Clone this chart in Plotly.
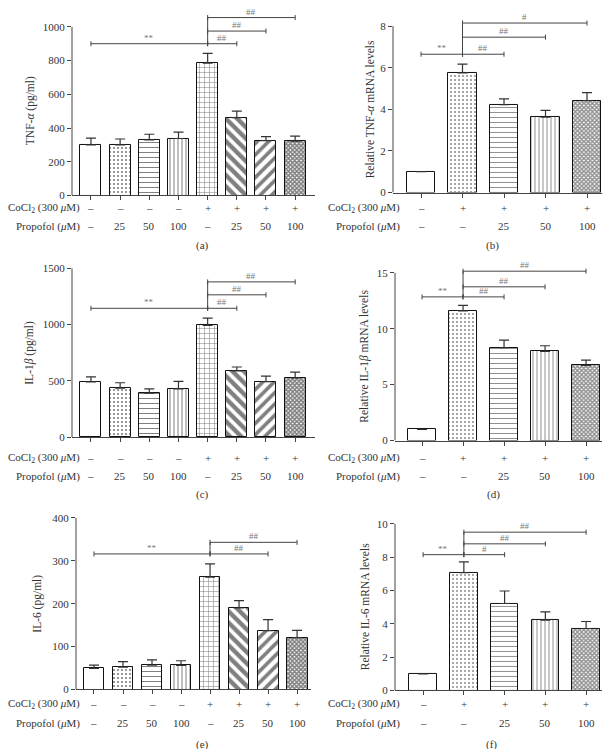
import plotly.graph_objects as go

W, H = 610, 749

# treatment rows under the x axis
cocl2_8 = ["–", "–", "–", "–", "+", "+", "+", "+"]
propofol_8 = ["–", "25", "50", "100", "–", "25", "50", "100"]
cocl2_5 = ["–", "+", "+", "+", "+"]
propofol_5 = ["–", "–", "25", "50", "100"]

# (a) TNF-a protein, pg/ml
tnf_protein = [300, 300, 330, 338, 785, 462, 325, 322]
tnf_protein_err = [40, 35, 33, 38, 58, 38, 24, 30]
# (b) TNF-a mRNA
tnf_mrna = [1.0, 5.75, 4.22, 3.62, 4.42]
tnf_mrna_err = [0, 0.42, 0.28, 0.33, 0.38]
# (c) IL-1b protein, pg/ml
il1b_protein = [490, 435, 390, 428, 993, 588, 493, 525]
il1b_protein_err = [45, 48, 38, 68, 65, 35, 48, 52]
# (d) IL-1b mRNA
il1b_mrna = [1.0, 11.6, 8.3, 7.98, 6.72]
il1b_mrna_err = [0, 0.5, 0.68, 0.5, 0.47]
# (e) IL-6 protein, pg/ml
il6_protein = [49, 52, 57, 56, 262, 190, 137, 121]
il6_protein_err = [8, 13, 12, 11, 31, 17, 26, 17]
# (f) IL-6 mRNA
il6_mrna = [1.0, 7.07, 5.22, 4.22, 3.72]
il6_mrna_err = [0, 0.65, 0.75, 0.5, 0.42]

# significance brackets: (from bar, to bar, height, mark)
tnf_protein_sig = [(0, 4, 900, "**"), (4, 5, 900, "##"), (4, 6, 975, "##"), (4, 7, 1055, "##")]
tnf_mrna_sig = [(0, 1, 6.65, "**"), (1, 2, 6.65, "##"), (1, 3, 7.47, "##"), (1, 4, 8.15, "#")]
il1b_protein_sig = [(0, 4, 1145, "**"), (4, 5, 1145, "##"), (4, 6, 1265, "##"), (4, 7, 1380, "##")]
il1b_mrna_sig = [(0, 1, 12.85, "**"), (1, 2, 12.85, "##"), (1, 3, 13.75, "##"), (1, 4, 15.15, "##")]
il6_protein_sig = [(0, 4, 316, "**"), (4, 6, 316, "##"), (4, 7, 343, "##")]
il6_mrna_sig = [(0, 1, 8.15, "**"), (1, 2, 8.15, "#"), (1, 3, 8.8, "##"), (1, 4, 9.5, "##")]

pattern8 = dict(shape=["", ".", "-", "|", "+", "\\", "/", "x"],
                size=[6, 4, 5, 4, 5, 8, 8, 3],
                solidity=[0, 0.22, 0.2, 0.25, 0.2, 0.55, 0.45, 0.75],
                fgcolor="black")
pattern5 = dict(shape=["", ".", "-", "|", "x"],
                size=[6, 4, 5, 4, 3],
                solidity=[0, 0.22, 0.2, 0.25, 0.7],
                fgcolor="#222")

panels = [
    dict(vals=tnf_protein, err=tnf_protein_err, cocl2=cocl2_8, prop=propofol_8, sig=tnf_protein_sig,
         title="TNF-<i>α</i> (pg/ml)", tag="(a)", x0=64, x1=307, xr=[-0.65, 7.68], bw=0.72,
         ybot=189, ytick=19, ymax=1000, dtick=200, ytop=2, title_x=22, label_x=74, rows=[202, 220, 239]),
    dict(vals=tnf_mrna, err=tnf_mrna_err, cocl2=cocl2_5, prop=propofol_5, sig=tnf_mrna_sig,
         title="Relative TNF-<i>α</i> mRNA levels", tag="(b)", x0=385, x1=601, xr=[-0.675, 4.53], bw=0.68,
         ybot=186, ytick=18.3, ymax=8, dtick=2, ytop=2, title_x=362, label_x=394, rows=[202, 220, 239]),
    dict(vals=il1b_protein, err=il1b_protein_err, cocl2=cocl2_8, prop=propofol_8, sig=il1b_protein_sig,
         title="IL-1<i>β</i> (pg/ml)", tag="(c)", x0=64, x1=307, xr=[-0.65, 7.68], bw=0.72,
         ybot=432.5, ytick=262.5, ymax=1500, dtick=500, ytop=250, title_x=22, label_x=74, rows=[454, 472, 490]),
    dict(vals=il1b_mrna, err=il1b_mrna_err, cocl2=cocl2_5, prop=propofol_5, sig=il1b_mrna_sig,
         title="Relative IL-1<i>β</i> mRNA levels", tag="(d)", x0=387, x1=601, xr=[-0.66, 4.56], bw=0.68,
         ybot=436, ytick=267, ymax=15, dtick=5, ytop=250, title_x=357, label_x=394, rows=[454, 472, 490]),
    dict(vals=il6_protein, err=il6_protein_err, cocl2=cocl2_8, prop=propofol_8, sig=il6_protein_sig,
         title="IL-6 (pg/ml)", tag="(e)", x0=68, x1=303, xr=[-0.62, 7.48], bw=0.72,
         ybot=687, ytick=514, ymax=400, dtick=100, ytop=500, title_x=30, label_x=74, rows=[702, 721, 742]),
    dict(vals=il6_mrna, err=il6_mrna_err, cocl2=cocl2_5, prop=propofol_5, sig=il6_mrna_sig,
         title="Relative IL-6 mRNA levels", tag="(f)", x0=387, x1=594, xr=[-0.69, 4.39], bw=0.68,
         ybot=688, ytick=520, ymax=10, dtick=2, ytop=505, title_x=357, label_x=394, rows=[702, 721, 742]),
]

FONT = "Liberation Serif, Times New Roman, serif"
TXT = "#333"
LINE = "#444"
FS = 11

fig = go.Figure()
shapes = []
annotations = []
layout = {}

for i, p in enumerate(panels):
    k = "" if i == 0 else str(i + 1)
    xref, yref = "x" + k, "y" + k
    n = len(p["vals"])
    ppu = (p["ybot"] - p["ytick"]) / p["ymax"]
    ytop_val = (p["ybot"] - p["ytop"]) / ppu

    fig.add_trace(go.Bar(
        x=list(range(n)), y=p["vals"], width=p["bw"],
        marker=dict(color="white", line=dict(color="#111", width=1),
                    pattern=pattern8 if n == 8 else pattern5),
        error_y=dict(type="data", symmetric=False, array=p["err"], arrayminus=[0] * n,
                     color="#333", thickness=1.2, width=5),
        xaxis=xref, yaxis=yref, showlegend=False, hoverinfo="skip"))

    layout["xaxis" + k] = dict(domain=[p["x0"] / W, p["x1"] / W], range=p["xr"], anchor=yref,
                               showline=True, linecolor=LINE, linewidth=1, ticks="outside",
                               ticklen=4, tickcolor=LINE, tickvals=list(range(n)),
                               showticklabels=False, showgrid=False, zeroline=False, fixedrange=True)
    tv = list(range(0, p["ymax"] + 1, p["dtick"]))
    layout["yaxis" + k] = dict(domain=[(H - p["ybot"]) / H, (H - p["ytop"]) / H], range=[0, ytop_val],
                               anchor=xref, showline=False, ticks="outside", ticklen=4,
                               tickcolor=LINE, tickvals=tv, ticktext=[str(t) for t in tv],
                               tickfont=dict(size=11, color=TXT, family=FONT),
                               showgrid=False, zeroline=False, fixedrange=True)

    # y axis line only up to the top tick
    shapes.append(dict(type="line", xref=xref + " domain", yref=yref, x0=0, x1=0, y0=0, y1=p["ymax"],
                       line=dict(color=LINE, width=1)))

    # significance brackets
    starts = [s[0] for s in p["sig"]]
    for a, b, yv, mark in p["sig"]:
        shapes.append(dict(type="line", xref=xref, yref=yref, x0=a, x1=b, y0=yv, y1=yv,
                           line=dict(color=LINE, width=1)))
        for xx in (a, b):
            shapes.append(dict(type="line", xref=xref, yref=yref, x0=xx, x1=xx,
                               ysizemode="pixel", yanchor=yv, y0=-2.5, y1=2.5,
                               line=dict(color=LINE, width=1)))
        annotations.append(dict(x=(a + b) / 2, y=yv, xref=xref, yref=yref, text=mark, showarrow=False,
                                yanchor="bottom", yshift=-1, font=dict(size=9, color="#777", family=FONT)))
    hub = max(set(starts), key=starts.count)
    hys = [s[2] for s in p["sig"] if s[0] == hub or s[1] == hub]
    shapes.append(dict(type="line", xref=xref, yref=yref, x0=hub, x1=hub, y0=min(hys), y1=max(hys),
                       line=dict(color=LINE, width=1)))

    # treatment rows
    for j in range(n):
        for txt, ry in ((p["cocl2"][j], p["rows"][0]), (p["prop"][j], p["rows"][1])):
            annotations.append(dict(x=j, y=(H - ry) / H, xref=xref, yref="paper", text=txt,
                                    showarrow=False, yanchor="middle",
                                    font=dict(size=FS, color=TXT, family=FONT)))
    annotations.append(dict(x=p["label_x"] / W, y=(H - p["rows"][0]) / H, xref="paper", yref="paper",
                            text="CoCl<sub>2</sub> (300 <i>μ</i>M)", showarrow=False, xanchor="right",
                            yanchor="middle", font=dict(size=FS, color=TXT, family=FONT)))
    annotations.append(dict(x=p["label_x"] / W, y=(H - p["rows"][1]) / H, xref="paper", yref="paper",
                            text="Propofol (<i>μ</i>M)", showarrow=False, xanchor="right",
                            yanchor="middle", font=dict(size=FS, color=TXT, family=FONT)))
    annotations.append(dict(x=(p["x0"] + p["x1"]) / 2 / W, y=(H - p["rows"][2]) / H, xref="paper",
                            yref="paper", text=p["tag"], showarrow=False, yanchor="middle",
                            font=dict(size=FS, color=TXT, family=FONT)))
    annotations.append(dict(x=p["title_x"] / W, y=(H - (p["ybot"] + p["ytick"]) / 2) / H, xref="paper",
                            yref="paper", text=p["title"], showarrow=False, textangle=-90,
                            xanchor="center", yanchor="middle",
                            font=dict(size=11.5, color=TXT, family=FONT)))

fig.update_layout(width=W, height=H, autosize=False, margin=dict(l=0, r=0, t=0, b=0),
                  paper_bgcolor="white", plot_bgcolor="white", bargap=0,
                  font=dict(family=FONT, color=TXT), shapes=shapes, annotations=annotations, **layout)

fig.write_html("out.html")
